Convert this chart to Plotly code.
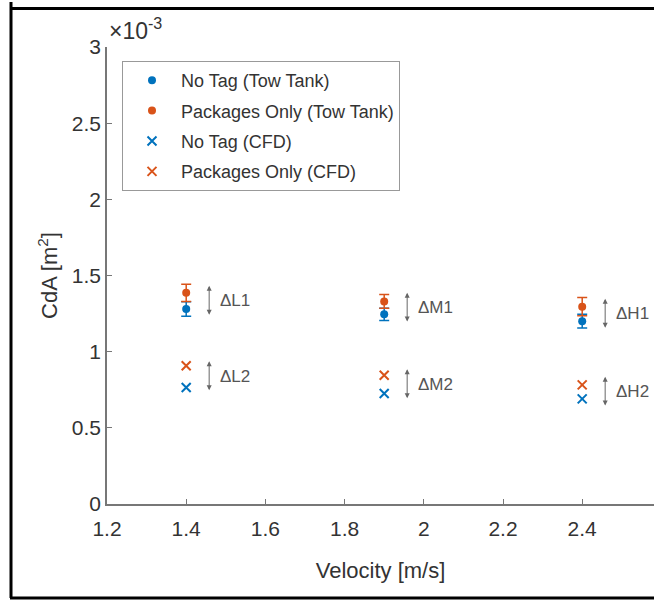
import plotly.graph_objects as go

# ---- data ----
velocity = [1.4, 1.9, 2.4]
notag_tow = [1.280, 1.245, 1.200]
notag_tow_err = [0.047, 0.040, 0.045]
pkg_tow = [1.386, 1.330, 1.295]
pkg_tow_err = [0.057, 0.045, 0.060]
notag_cfd = [0.765, 0.725, 0.690]
pkg_cfd = [0.908, 0.845, 0.782]
delta_labels_1 = ["ΔL1", "ΔM1", "ΔH1"]
delta_labels_2 = ["ΔL2", "ΔM2", "ΔH2"]
x_ticks = [1.2, 1.4, 1.6, 1.8, 2.0, 2.2, 2.4]
x_ticklabels = ["1.2", "1.4", "1.6", "1.8", "2", "2.2", "2.4"]
y_ticks = [0, 0.5, 1, 1.5, 2, 2.5, 3]
y_ticklabels = ["0", "0.5", "1", "1.5", "2", "2.5", "3"]

BLUE = "#0072BD"
ORANGE = "#D95319"
TXT = "#333333"
FONT = "Liberation Sans, Arial, sans-serif"

fig = go.Figure()
fig.add_trace(go.Scatter(
    x=velocity, y=notag_tow, mode="markers", name="No Tag (Tow Tank)",
    legendgroup="a",
    marker=dict(color=BLUE, size=8, symbol="circle"),
    error_y=dict(type="data", array=notag_tow_err, color=BLUE, thickness=1.5, width=5),
))
fig.add_trace(go.Scatter(
    x=velocity, y=pkg_tow, mode="markers", name="Packages Only (Tow Tank)",
    legendgroup="b",
    marker=dict(color=ORANGE, size=8, symbol="circle"),
    error_y=dict(type="data", array=pkg_tow_err, color=ORANGE, thickness=1.5, width=5),
))
fig.add_trace(go.Scatter(
    x=velocity, y=notag_cfd, mode="markers", name="No Tag (CFD)",
    legendgroup="c",
    marker=dict(color=BLUE, size=9, symbol="x-thin", line=dict(color=BLUE, width=2)),
))
fig.add_trace(go.Scatter(
    x=velocity, y=pkg_cfd, mode="markers", name="Packages Only (CFD)",
    legendgroup="d",
    marker=dict(color=ORANGE, size=9, symbol="x-thin", line=dict(color=ORANGE, width=2)),
))

# delta arrows and labels
arrow_dx = 0.058
label_dx = 0.080
half = 0.10
annotations = []
pairs = [(notag_tow, pkg_tow, delta_labels_1), (notag_cfd, pkg_cfd, delta_labels_2)]
for lo, hi, labs in pairs:
    for v, a, b, lab in zip(velocity, lo, hi, labs):
        mid = (a + b) / 2
        annotations.append(dict(
            x=v + arrow_dx, y=mid + half, ax=v + arrow_dx, ay=mid - half,
            xref="x", yref="y", axref="x", ayref="y", text="",
            showarrow=True, arrowhead=2, arrowside="end+start",
            arrowsize=1, arrowwidth=1, arrowcolor="#666666",
        ))
        annotations.append(dict(
            x=v + label_dx, y=mid, xref="x", yref="y", text=lab,
            showarrow=False, xanchor="left", yanchor="middle",
            font=dict(family=FONT, size=17, color="#555555"),
        ))

annotations.append(dict(
    x=0, y=1, xref="paper", yref="paper", text="×10<sup>-3</sup>",
    showarrow=False, xanchor="left", yanchor="bottom", xshift=0, yshift=1,
    font=dict(family=FONT, size=23, color=TXT),
))

W, H = 654, 602
L, R, T, B = 107, 0, 47, 98
pw, ph = W - L - R, H - T - B
def px(xp):
    return (xp - L) / pw
def py(yp):
    return (H - B - yp) / ph

frame_line = dict(color="black", width=3)
shapes = [
    dict(type="rect", xref="paper", yref="paper", x0=px(10), x1=px(W + 10), y0=py(10), y1=py(7),
         line=dict(width=0), fillcolor="black", layer="above"),
    dict(type="line", xref="paper", yref="paper", x0=px(11), x1=px(11), y0=py(598), y1=py(2), line=frame_line),
    dict(type="line", xref="paper", yref="paper", x0=px(10), x1=px(W + 10), y0=py(598), y1=py(598), line=frame_line),
]

fig.update_layout(
    width=W, height=H,
    margin=dict(l=L, r=R, t=T, b=B),
    paper_bgcolor="white", plot_bgcolor="white",
    font=dict(family=FONT, size=18, color=TXT),
    showlegend=True,
    legend=dict(
        x=px(122), y=py(61), xanchor="left", yanchor="top",
        bgcolor="white", bordercolor="#999999", borderwidth=1,
        font=dict(family=FONT, size=18, color=TXT),
        tracegroupgap=4, itemwidth=48,
    ),
    annotations=annotations,
    shapes=shapes,
    xaxis=dict(
        range=[1.2, 1.2 + pw / 396.0], tickvals=x_ticks, ticktext=x_ticklabels,
        ticks="inside", ticklen=5, tickcolor="#777777", tickwidth=1,
        showline=True, linecolor="#777777", linewidth=1.5, mirror=False,
        showgrid=False, zeroline=False, ticklabelstandoff=5,
        title=dict(text="Velocity [m/s]", font=dict(family=FONT, size=22, color=TXT), standoff=24),
        tickfont=dict(family=FONT, size=21, color=TXT),
    ),
    yaxis=dict(
        range=[0, 3], tickvals=y_ticks, ticktext=y_ticklabels,
        ticks="inside", ticklen=5, tickcolor="#777777", tickwidth=1,
        showline=True, linecolor="#777777", linewidth=1.5, mirror=False,
        showgrid=False, zeroline=False,
        title=dict(text="CdA [m<sup>2</sup>]", font=dict(family=FONT, size=22, color=TXT), standoff=8),
        tickfont=dict(family=FONT, size=21, color=TXT),
    ),
)

fig.write_html(
    "out.html",
    config={"displayModeBar": False},
    post_script="document.body.style.margin='0';document.body.style.overflow='hidden';"
                "document.documentElement.style.overflow='hidden';",
)
